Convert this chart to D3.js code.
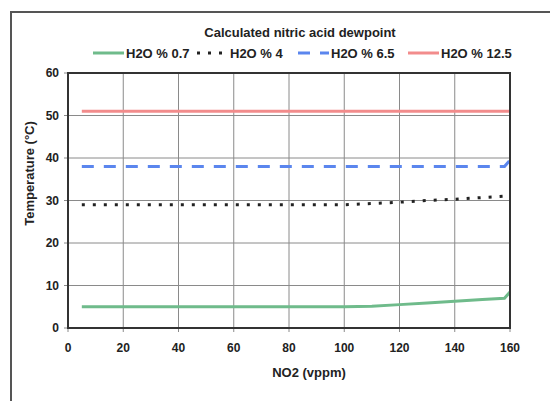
<!DOCTYPE html>
<html>
<head>
<script src="https://cdnjs.cloudflare.com/ajax/libs/d3/7.8.5/d3.min.js"></script>
<style>
body { margin: 0; background: #fff; }
svg text { font-family: "Liberation Sans", Arial, sans-serif; fill: #222; }
</style>
</head>
<body>
<div id="chart"></div>
<script>
// NO2 (vppm) sample points shared by all series
const no2 = [5, 20, 40, 60, 80, 100, 110, 120, 130, 140, 150, 158, 160];

const h2o_07  = [5, 5, 5, 5, 5, 5, 5.1, 5.5, 5.9, 6.3, 6.7, 7.0, 8.5];
const h2o_4   = [29, 29, 29, 29, 29, 29, 29.3, 29.6, 30.0, 30.3, 30.7, 31.0, 31.1];
const h2o_65  = [38, 38, 38, 38, 38, 38, 38, 38, 38, 38, 38, 38, 39.5];
const h2o_125 = [51, 51, 51, 51, 51, 51, 51, 51, 51, 51, 51, 51, 51];

const seriesNames = ["H2O % 0.7", "H2O % 4", "H2O % 6.5", "H2O % 12.5"];
const xTicks = [0, 20, 40, 60, 80, 100, 120, 140, 160];
const yTicks = [0, 10, 20, 30, 40, 50, 60];

const W = 550, H = 401;
const margin = { top: 73, right: 40, bottom: 73, left: 68 };
const iw = W - margin.left - margin.right, ih = H - margin.top - margin.bottom;

const svg = d3.select("#chart").append("svg").attr("width", W).attr("height", H);

// outer chart frame (runs off the right / bottom of the picture)
svg.append("rect").attr("x", 11).attr("y", 12).attr("width", 560).attr("height", 420)
   .attr("fill", "none").attr("stroke", "#555").attr("stroke-width", 2);

const x = d3.scaleLinear().domain([0, 160]).range([0, iw]);
const y = d3.scaleLinear().domain([0, 60]).range([ih, 0]);

const g = svg.append("g").attr("transform", "translate(" + margin.left + "," + margin.top + ")");

// grid
g.append("g").selectAll("line").data(yTicks).enter().append("line")
  .attr("x1", -4).attr("x2", iw).attr("y1", d => y(d)).attr("y2", d => y(d))
  .attr("stroke", "#8a8a8a").attr("stroke-width", 1);
g.append("g").selectAll("line").data(xTicks).enter().append("line")
  .attr("y1", 0).attr("y2", ih + 4).attr("x1", d => x(d)).attr("x2", d => x(d))
  .attr("stroke", "#8a8a8a").attr("stroke-width", 1);

// tick labels
g.selectAll(".yl").data(yTicks).enter().append("text")
  .attr("x", -9).attr("y", d => y(d)).attr("dy", "0.35em")
  .attr("text-anchor", "end").style("font-size", "12px").style("font-weight", "bold")
  .text(d => d);
g.selectAll(".xl").data(xTicks).enter().append("text")
  .attr("x", d => x(d)).attr("y", ih + 24)
  .attr("text-anchor", "middle").style("font-size", "12px").style("font-weight", "bold")
  .text(d => d);

const series = [
  { name: seriesNames[0], vals: h2o_07,  color: "#6fbb8b", dash: null,    w: 3 },
  { name: seriesNames[1], vals: h2o_4,   color: "#222",    dash: "3,8",   w: 3 },
  { name: seriesNames[2], vals: h2o_65,  color: "#5b86ee", dash: "12,10", w: 3 },
  { name: seriesNames[3], vals: h2o_125, color: "#f28c8c", dash: null,    w: 3 }
];

const line = d3.line().x(d => x(d[0])).y(d => y(d[1]));

series.forEach(s => {
  g.append("path")
   .datum(no2.map((v, i) => [v, s.vals[i]]))
   .attr("d", line)
   .attr("fill", "none")
   .attr("stroke", s.color)
   .attr("stroke-width", s.w)
   .attr("stroke-dasharray", s.dash);
});

// plot border
g.append("rect").attr("width", iw).attr("height", ih)
 .attr("fill", "none").attr("stroke", "#333").attr("stroke-width", 2);

// axis titles
g.append("text").attr("x", iw / 2 + 20).attr("y", ih + 49)
 .attr("text-anchor", "middle").style("font-size", "13px").style("font-weight", "bold")
 .text("NO2 (vppm)");
svg.append("text").attr("transform", "translate(34," + (margin.top + ih / 2 - 27) + ") rotate(-90)")
 .attr("text-anchor", "middle").style("font-size", "13px").style("font-weight", "bold")
 .text("Temperature (°C)");

// title
svg.append("text").attr("x", 300).attr("y", 37)
 .attr("text-anchor", "middle").style("font-size", "13px").style("font-weight", "bold")
 .text("Calculated nitric acid dewpoint");

// legend
const legendX = [93, 197, 298, 408];
series.forEach((s, i) => {
  const lg = svg.append("g").attr("transform", "translate(" + legendX[i] + ",53)");
  lg.append("line").attr("x1", 0).attr("x2", 31).attr("y1", 0).attr("y2", 0)
    .attr("stroke", s.color).attr("stroke-width", 3).attr("stroke-dasharray", s.dash);
  lg.append("text").attr("x", 33).attr("dy", "0.35em")
    .style("font-size", "13px").style("font-weight", "bold").text(s.name);
});
</script>
</body>
</html>
